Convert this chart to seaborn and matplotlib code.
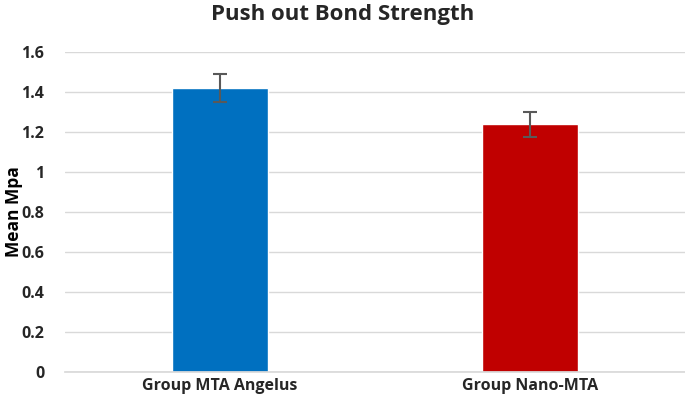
import matplotlib
matplotlib.use("Agg")
import matplotlib.pyplot as plt
import seaborn as sns
import pandas as pd
import numpy as np

categories = ["Group MTA Angelus", "Group Nano-MTA"]
means = [1.42, 1.24]
errors = [0.07, 0.062]
yticks = [0, 0.2, 0.4, 0.6, 0.8, 1, 1.2, 1.4, 1.6]
ytick_labels = ["0", "0.2", "0.4", "0.6", "0.8", "1", "1.2", "1.4", "1.6"]
colors = ["#0070C0", "#C00000"]

sns.set_theme(style="white")
plt.rcParams['font.family'] = ['Open Sans', 'DejaVu Sans']

df = pd.DataFrame({"group": categories, "mean": means})

fig = plt.figure(figsize=(6.85, 4.04), dpi=100)
ax = fig.add_axes([0.095, 0.079, 0.905, 0.792])
sns.barplot(data=df, x="group", y="mean", hue="group", palette=colors,
            width=0.31, ax=ax, legend=False, errorbar=None, saturation=1)
ax.errorbar(x=np.arange(len(categories)), y=means, yerr=errors, fmt="none",
            ecolor="#595959", elinewidth=1.5, capsize=5, capthick=1.5, zorder=5)
ax.set_ylim(0, 1.6)
ax.set_xlim(-0.5, 1.5)
ax.set_yticks(yticks)
ax.set_yticklabels(ytick_labels, fontsize=11.5, fontweight="bold", color="#262626")
ax.set_xticks(range(len(categories)))
ax.set_xticklabels(categories, fontsize=11.5, fontweight="bold", color="#262626")
ax.tick_params(axis="y", length=0, pad=15)
ax.tick_params(axis="x", length=0, pad=4)
ax.yaxis.grid(True, color="#D9D9D9", linewidth=1)
ax.set_axisbelow(True)
for s in ["top", "right", "left"]:
    ax.spines[s].set_visible(False)
ax.spines["bottom"].set_color("#D9D9D9")
ax.set_xlabel("")
ax.set_ylabel("Mean Mpa", fontsize=12.5, fontweight="bold", color="black")
ax.yaxis.set_label_coords(-0.068, 0.5)
fig.suptitle("Push out Bond Strength", fontsize=16, fontweight="bold", y=0.99)
fig.savefig("out.png", dpi=100)
